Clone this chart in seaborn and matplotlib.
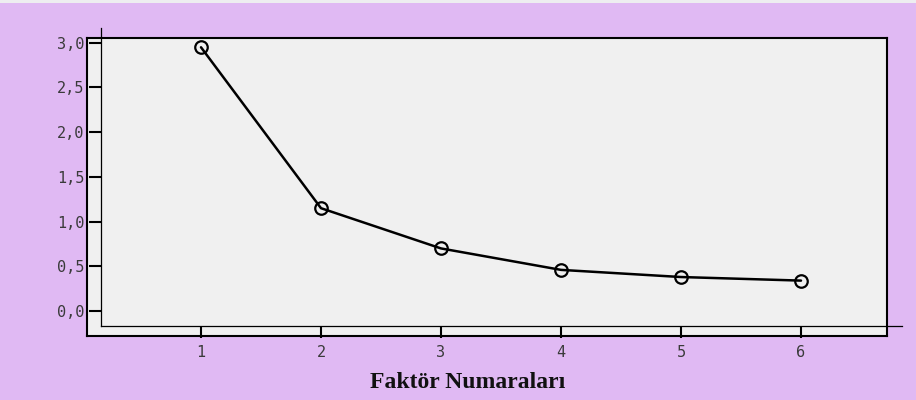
import matplotlib
matplotlib.use("Agg")
import matplotlib.pyplot as plt
import seaborn as sns
import pandas as pd
from matplotlib.patches import Rectangle

# ---- data ----
factors = [1, 2, 3, 4, 5, 6]
eigen = [2.95, 1.15, 0.70, 0.46, 0.38, 0.34]
y_ticks = [0.0, 0.5, 1.0, 1.5, 2.0, 2.5, 3.0]
x_label = "Faktör Numaraları"

df = pd.DataFrame({"faktor": factors, "deger": eigen})

sns.set_style("white")
W, H = 916, 400
fig = plt.figure(figsize=(W / 100, H / 100), dpi=100)
fig.patch.set_facecolor("#E0B9F3")
fig.patches.append(Rectangle((0, 1 - 3 / H), 1, 3 / H, transform=fig.transFigure,
                             facecolor="#EEEEF0", edgecolor="none", zorder=0))


def px_axes(x0, y0, x1, y1):
    return [x0 / W, 1 - y1 / H, (x1 - x0) / W, (y1 - y0) / H]


# outer framed box
frame = fig.add_axes(px_axes(87, 38, 887, 336))
frame.set_facecolor("#F0F0F0")
frame.set_xticks([])
frame.set_yticks([])
for s in frame.spines.values():
    s.set_color("black")
    s.set_linewidth(1.5)

# data axes with inner axis lines
ax = fig.add_axes(px_axes(101, 28, 902, 326))
ax.patch.set_alpha(0)
sns.lineplot(data=df, x="faktor", y="deger", ax=ax, color="black", linewidth=1.8,
             marker="o", markersize=9, markerfacecolor="none",
             markeredgecolor="black", markeredgewidth=1.6)

ax.set_xlim(1 - 100 / 120, 1 + 701 / 120)
ax.set_ylim(-15 / 89.4, 283 / 89.4)
for side in ["top", "right"]:
    ax.spines[side].set_visible(False)
for side in ["left", "bottom"]:
    ax.spines[side].set_color("black")
    ax.spines[side].set_linewidth(0.9)

ax.set_xticks(factors)
ax.set_xticklabels([str(f) for f in factors])
ax.set_yticks(y_ticks)
ax.set_yticklabels([f"{v:.1f}".replace(".", ",") for v in y_ticks])
ax.tick_params(axis="both", bottom=True, left=True, direction="out", length=8.5,
               width=1.5, color="black", labelsize=11, labelcolor="#3a3a3a")
ax.tick_params(axis="y", pad=3.5)
ax.tick_params(axis="x", pad=5)
for lab in ax.get_xticklabels() + ax.get_yticklabels():
    lab.set_family("DejaVu Sans Mono")

ax.set_xlabel("")
ax.set_ylabel("")

fig.text(468 / W, 1 - 382 / H, x_label, ha="center", va="center",
         family="Liberation Serif", fontweight="bold", fontsize=17, color="#111111")

fig.savefig("out.png", dpi=100, facecolor=fig.get_facecolor())
